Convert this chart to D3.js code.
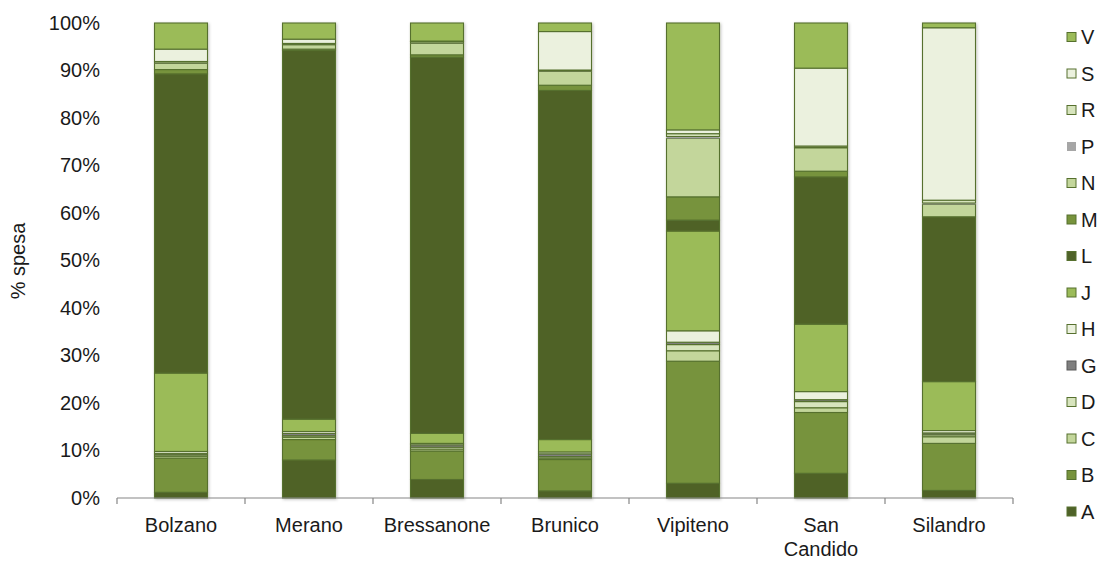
<!DOCTYPE html>
<html>
<head>
<meta charset="utf-8">
<script src="https://cdn.jsdelivr.net/npm/d3@7"></script>
<style>
  html, body { margin: 0; padding: 0; background: #fff; }
  svg { display: block; font-family: "Liberation Sans", Arial, sans-serif; }
</style>
</head>
<body>
<svg id="chart" width="1102" height="563"></svg>
<script>
// Categories (towns) and stacked series, values in % of spending
const categories = ["Bolzano", "Merano", "Bressanone", "Brunico", "Vipiteno", "San Candido", "Silandro"];
const seriesKeys = ["A", "B", "C", "D", "G", "H", "J", "L", "M", "N", "P", "R", "S", "V"];

const A = [1.2, 8.0, 3.9, 1.5, 3.1, 5.2, 1.6];
const B = [7.2, 4.3, 6.0, 6.6, 25.7, 12.8, 9.9];
const C = [0.4, 0.5, 0.4, 0.3, 2.2, 1.0, 1.4];
const D = [0.3, 0.3, 0.4, 0.3, 1.3, 1.3, 0.4];
const G = [0.3, 0.5, 0.5, 0.6, 0.5, 0.4, 0.4];
const H = [0.4, 0.4, 0.3, 0.4, 2.4, 1.7, 0.5];
const J = [16.5, 2.6, 2.1, 2.6, 21.0, 14.2, 10.3];
const L = [63.0, 77.6, 79.2, 73.5, 2.3, 31.0, 34.7];
const M = [0.9, 0.3, 0.5, 1.1, 4.9, 1.2, 0.0];
const N = [1.3, 0.9, 2.4, 2.9, 12.3, 4.9, 2.6];
const P = [0.1, 0.1, 0.1, 0.1, 0.4, 0.1, 0.3];
const R = [0.3, 0.2, 0.3, 0.2, 0.6, 0.3, 0.6];
const S = [2.6, 0.9, 0.1, 8.1, 0.8, 16.4, 36.3];
const V = [5.5, 3.4, 3.8, 1.8, 22.5, 9.5, 1.0];

const yTicks = [0, 10, 20, 30, 40, 50, 60, 70, 80, 90, 100];

const seriesValues = { A, B, C, D, G, H, J, L, M, N, P, R, S, V };

const colors = {
  A: "#4f6228", B: "#77933c", C: "#c3d69b", D: "#d7e4bd", G: "#7f7f7f",
  H: "#ebf1de", J: "#9bbb59", L: "#4f6228", M: "#77933c", N: "#c3d69b",
  P: "#a6a6a6", R: "#d7e4bd", S: "#ebf1de", V: "#9bbb59"
};
const strokeCol = "#56702e";
const fontSize = 20;
const textCol = "#1a1a1a";

// table rows for the stack layout
const rows = categories.map((c, i) => {
  const r = { cat: c };
  seriesKeys.forEach(k => { r[k] = seriesValues[k][i]; });
  return r;
});

const svg = d3.select("#chart");

const defs = svg.append("defs");
const f = defs.append("filter").attr("id", "shadow")
  .attr("x", "-20%").attr("y", "-5%").attr("width", "140%").attr("height", "110%");
f.append("feDropShadow").attr("dx", 1).attr("dy", 1).attr("stdDeviation", 1.5)
  .attr("flood-color", "#000").attr("flood-opacity", 0.25);

const x = d3.scaleBand().domain(categories).range([117, 1013])
  .paddingInner(0.586).paddingOuter(0.293);
const y = d3.scaleLinear().domain([0, 100]).range([498, 23]);

const stack = d3.stack().keys(seriesKeys);
const stacked = stack(rows);

// bars
const gBars = svg.append("g").attr("filter", "url(#shadow)");
stacked.forEach(layer => {
  const key = layer.key;
  gBars.append("g")
    .selectAll("rect")
    .data(layer.filter(d => d[1] - d[0] > 0))
    .join("rect")
    .attr("x", d => x(d.data.cat))
    .attr("width", x.bandwidth())
    .attr("y", d => y(d[1]))
    .attr("height", d => y(d[0]) - y(d[1]))
    .attr("fill", colors[key])
    .attr("stroke", key === "P" ? "none" : strokeCol)
    .attr("stroke-width", 1.1);
});

// y axis
const yAxis = d3.axisLeft(y).tickValues(yTicks).tickFormat(d => d + "%")
  .tickSize(0).tickPadding(17);
const gy = svg.append("g").attr("transform", "translate(117,0)").call(yAxis);
gy.select(".domain").remove();
gy.selectAll("text").attr("font-size", fontSize).attr("fill", textCol)
  .attr("font-family", "Liberation Sans, Arial, sans-serif");

// x axis baseline and separator ticks
const gx = svg.append("g").attr("transform", "translate(0,498)");
gx.append("line").attr("x1", 117).attr("x2", 1013).attr("y1", 0).attr("y2", 0)
  .attr("stroke", "#868686").attr("stroke-width", 1.2);
const bounds = categories.map(c => x(c) - (x.step() - x.bandwidth()) / 2);
bounds.push(1013);
gx.selectAll("line.sep").data(bounds).join("line").attr("class", "sep")
  .attr("x1", d => d).attr("x2", d => d).attr("y1", 0).attr("y2", 6)
  .attr("stroke", "#868686").attr("stroke-width", 1.2);

// category labels (wrapped on spaces where needed)
const wrapCats = { "San Candido": ["San", "Candido"] };
const lbl = gx.selectAll("text.cat").data(categories).join("text").attr("class", "cat")
  .attr("x", d => x(d) + x.bandwidth() / 2)
  .attr("y", 34)
  .attr("text-anchor", "middle")
  .attr("font-size", fontSize).attr("fill", textCol);
lbl.each(function(d) {
  const lines = wrapCats[d] || [d];
  const t = d3.select(this);
  lines.forEach((ln, i) => {
    t.append("tspan").attr("x", x(d) + x.bandwidth() / 2).attr("dy", i === 0 ? 0 : 24).text(ln);
  });
});

// y title
svg.append("text")
  .attr("transform", "translate(25,261) rotate(-90)")
  .attr("text-anchor", "middle")
  .attr("font-size", fontSize).attr("fill", textCol)
  .text("% spesa");

// legend (top to bottom in reverse stack order)
const legendKeys = seriesKeys.slice().reverse();
const lg = svg.append("g");
const li = lg.selectAll("g").data(legendKeys).join("g")
  .attr("transform", (d, i) => `translate(1067,${37 + i * 36.5})`);
li.append("rect").attr("x", 0).attr("y", -4.5).attr("width", 9).attr("height", 9)
  .attr("fill", d => colors[d])
  .attr("stroke", d => d === "P" ? "none" : (d === "G" ? "#5a5a5a" : strokeCol))
  .attr("stroke-width", 1);
li.append("text").attr("x", 14).attr("y", 0).attr("dy", "0.35em")
  .attr("font-size", fontSize).attr("fill", textCol).text(d => d);
</script>
</body>
</html>
